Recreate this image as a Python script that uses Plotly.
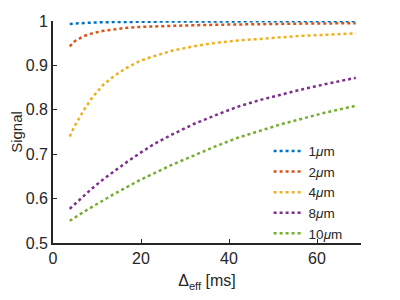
import plotly.graph_objects as go

x_ms = [3.8, 5, 7, 9, 11.5, 14, 17, 20, 23, 27, 32, 37, 42, 47, 52, 57, 62, 68.8]
names = ["1<i>μ</i>m", "2<i>μ</i>m", "4<i>μ</i>m", "8<i>μ</i>m", "10<i>μ</i>m"]
s_1um = [0.9934, 0.9945, 0.9958, 0.9966, 0.9973, 0.9978, 0.9982, 0.9985, 0.9987, 0.9989,
         0.9990, 0.9991, 0.9992, 0.9993, 0.9993, 0.9994, 0.9994, 0.9995]
s_2um = [0.943, 0.955, 0.966, 0.9725, 0.978, 0.9815, 0.985, 0.9868, 0.988, 0.9893,
         0.9905, 0.9915, 0.9925, 0.9933, 0.9938, 0.9942, 0.9945, 0.995]
s_4um = [0.740, 0.765, 0.799, 0.829, 0.857, 0.877, 0.896, 0.911, 0.921, 0.933,
         0.943, 0.951, 0.956, 0.960, 0.964, 0.967, 0.969, 0.972]
s_8um = [0.577, 0.588, 0.606, 0.624, 0.644, 0.663, 0.684, 0.704, 0.723, 0.744,
         0.768, 0.788, 0.807, 0.822, 0.835, 0.847, 0.858, 0.872]
s_10um = [0.550, 0.558, 0.570, 0.582, 0.597, 0.611, 0.627, 0.643, 0.657, 0.676,
          0.697, 0.718, 0.737, 0.753, 0.768, 0.781, 0.794, 0.809]
colors = ["#0072BD", "#D95319", "#EDB120", "#7E2F8E", "#77AC30"]
x_ticks = [0, 20, 40, 60]
y_ticks = [0.5, 0.6, 0.7, 0.8, 0.9, 1]
y_tick_text = ["0.5", "0.6", "0.7", "0.8", "0.9", "1"]

fig = go.Figure()
for name, ys, c in zip(names, [s_1um, s_2um, s_4um, s_8um, s_10um], colors):
    fig.add_trace(go.Scatter(x=x_ms, y=ys, mode="lines", name=name,
                             line=dict(color=c, width=2.5, dash="dot")))

axis_col = "#262626"
fig.update_layout(
    width=400, height=300,
    margin=dict(l=45, r=47, t=13, b=65),
    paper_bgcolor="white", plot_bgcolor="white",
    font=dict(family="Liberation Sans, Arial, sans-serif", size=15, color=axis_col),
    showlegend=True,
    legend=dict(x=0.70, y=0.483, xanchor="left", yanchor="top",
                bgcolor="rgba(0,0,0,0)", borderwidth=0, tracegroupgap=0,
                font=dict(size=13.5, color=axis_col), itemwidth=30),
    xaxis=dict(range=[0, 70], tickvals=x_ticks, ticks="inside", ticklen=4,
               tickcolor=axis_col, showline=True, linecolor=axis_col, linewidth=1.6,
               showgrid=False, zeroline=False, tickfont=dict(size=16), automargin=False,
               title=dict(text="Δ<sub>eff</sub> [ms]", font=dict(size=16), standoff=9)),
    yaxis=dict(range=[0.5, 1], tickvals=y_ticks, ticktext=y_tick_text, ticks="inside",
               ticklen=4, tickcolor=axis_col, showline=True, linecolor=axis_col,
               linewidth=1.6, showgrid=False, zeroline=False, tickfont=dict(size=16),
               automargin=False,
               title=dict(text="Signal", font=dict(size=15), standoff=4)),
)
fig.write_html("out.html")
